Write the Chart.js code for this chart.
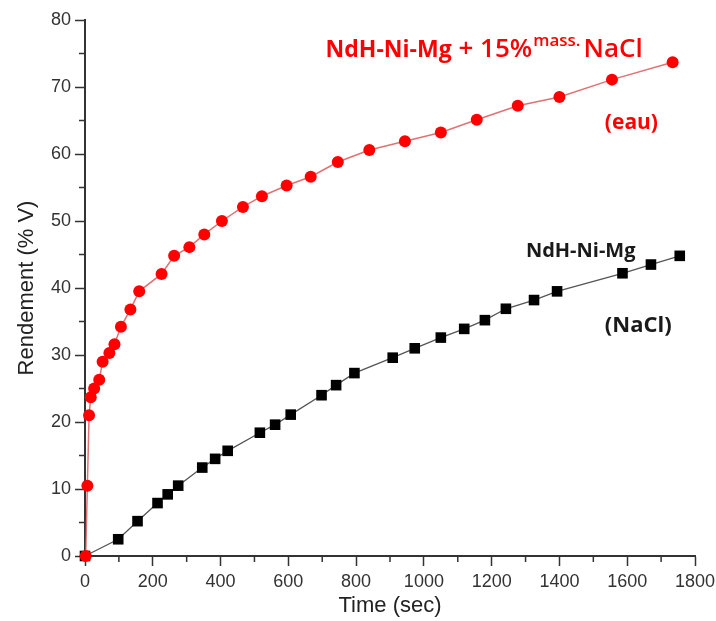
<!DOCTYPE html>
<html>
<head>
<meta charset="utf-8">
<script src="https://cdn.jsdelivr.net/npm/chart.js@4.4.0/dist/chart.umd.min.js"></script>
<style>
  html, body { margin: 0; padding: 0; background: #fff; }
  #wrap { width: 716px; height: 621px; }
</style>
</head>
<body>
<div id="wrap"><canvas id="chartRendement"></canvas></div>
<script>
// eau (NdH-Ni-Mg + 15% mass. NaCl)
var redTime = [2, 7, 12, 17, 27, 42, 52, 72, 87, 106, 134, 160, 226, 263, 308, 352, 404, 466, 522, 595, 666, 746, 839, 944, 1050, 1156, 1277, 1400, 1555, 1734]
var redYield = [0, 10.5, 21, 23.7, 25.0, 26.3, 29.0, 30.3, 31.6, 34.2, 36.8, 39.5, 42.1, 44.8, 46.1, 48.0, 50.0, 52.1, 53.7, 55.3, 56.6, 58.8, 60.6, 61.9, 63.2, 65.1, 67.2, 68.5, 71.1, 73.7]

// NaCl (NdH-Ni-Mg)
var blackTime = [0, 98, 155, 214, 244, 275, 346, 384, 421, 516, 561, 607, 698, 741, 795, 908, 973, 1050, 1119, 1180, 1242, 1325, 1393, 1586, 1670, 1755]
var blackYield = [0, 2.5, 5.2, 7.9, 9.2, 10.5, 13.2, 14.5, 15.7, 18.4, 19.6, 21.1, 24.0, 25.5, 27.3, 29.6, 31.0, 32.6, 33.9, 35.2, 36.9, 38.2, 39.5, 42.2, 43.5, 44.8]

var xTicks = [0, 200, 400, 600, 800, 1000, 1200, 1400, 1600, 1800]
var yTicks = [0, 10, 20, 30, 40, 50, 60, 70, 80]

function points(xs, ys) {
  return xs.map(function (x, i) { return { x: x, y: ys[i] } })
}

// short minor ticks between the labelled ones
var minorTicks = {
  id: 'minorTicks',
  afterDraw: function (chart) {
    var ctx = chart.ctx
    var sx = chart.scales.x
    var sy = chart.scales.y
    var a = chart.chartArea
    ctx.save()
    ctx.strokeStyle = '#333'
    ctx.lineWidth = 1.5
    ctx.beginPath()
    for (var i = 0; i < xTicks.length - 1; i++) {
      var px = sx.getPixelForValue((xTicks[i] + xTicks[i + 1]) / 2)
      ctx.moveTo(px, a.bottom)
      ctx.lineTo(px, a.bottom + 6)
    }
    for (var j = 0; j < yTicks.length - 1; j++) {
      var py = sy.getPixelForValue((yTicks[j] + yTicks[j + 1]) / 2)
      ctx.moveTo(a.left, py)
      ctx.lineTo(a.left - 6, py)
    }
    ctx.stroke()
    ctx.restore()
  },
}

// text notes, placed in data units
var notes = {
  id: 'notes',
  afterDraw: function (chart) {
    var ctx = chart.ctx
    var sx = chart.scales.x
    var sy = chart.scales.y
    ctx.save()
    ctx.textBaseline = 'alphabetic'
    ctx.textAlign = 'left'

    // red title with superscript
    var x = sx.getPixelForValue(710)
    var y = sy.getPixelForValue(74.5)
    ctx.fillStyle = '#ff0000'
    var parts = [
      { t: 'NdH-Ni-Mg', f: 'bold 23px "Open Sans"', dy: 0, gap: 0 },
      { t: ' + 15%', f: '600 26px "Open Sans"', dy: 0, gap: 1 },
      { t: 'mass.', f: '600 17px "Open Sans"', dy: -11, gap: 3 },
      { t: 'NaCl', f: '600 26px "Open Sans"', dy: 0, gap: 0 },
    ]
    parts.forEach(function (p) {
      ctx.font = p.f
      ctx.fillText(p.t, x, y + p.dy)
      x += ctx.measureText(p.t).width + p.gap
    })

    ctx.font = 'bold 21px "Open Sans"'
    ctx.fillText('(eau)', sx.getPixelForValue(1534), sy.getPixelForValue(63.7))

    ctx.fillStyle = '#1a1a1a'
    ctx.font = 'bold 20px "Open Sans"'
    ctx.fillText('NdH-Ni-Mg', sx.getPixelForValue(1301), sy.getPixelForValue(44.6))
    ctx.font = 'bold 22px "Open Sans"'
    ctx.fillText('(NaCl)', sx.getPixelForValue(1534), sy.getPixelForValue(33.4))
    ctx.restore()
  },
}

var ctx = document.getElementById('chartRendement').getContext('2d')

var chart = new Chart(ctx, {
  type: 'line',
  data: {
    datasets: [
      {
        label: 'eau',
        data: points(redTime, redYield),
        borderColor: 'rgba(215, 90, 90, 0.85)',
        borderWidth: 1.5,
        backgroundColor: '#ff0000',
        pointBackgroundColor: '#ff0000',
        pointBorderColor: '#ff0000',
        pointRadius: 6,
        pointBorderWidth: 0,
        pointStyle: 'circle',
        tension: 0,
        clip: false,
      },
      {
        label: 'NaCl',
        data: points(blackTime, blackYield),
        borderColor: '#555',
        borderWidth: 1.3,
        backgroundColor: '#000',
        pointBackgroundColor: '#000',
        pointBorderColor: '#000',
        pointRadius: 7.5,
        pointBorderWidth: 0,
        pointStyle: 'rect',
        tension: 0,
        clip: false,
      },
    ],
  },
  options: {
    responsive: true,
    maintainAspectRatio: false,
    animation: false,
    layout: { padding: { top: 20, right: 21, left: 0, bottom: 0 } },
    plugins: {
      legend: { display: false },
      tooltip: { enabled: false },
    },
    scales: {
      x: {
        type: 'linear',
        min: 0,
        max: 1800,
        afterFit: function (s) {
          s.height = 65
          s.paddingRight = 0
          s.paddingLeft = 0
        },
        afterBuildTicks: function (s) {
          s.ticks = xTicks.map(function (v) { return { value: v } })
        },
        ticks: {
          color: '#333',
          font: { family: 'Liberation Sans', size: 18 },
          padding: 5,
          maxRotation: 0,
          autoSkip: false,
          callback: function (v) { return String(v) },
        },
        grid: { drawOnChartArea: false, tickLength: 10, color: '#333', tickWidth: 1.5 },
        border: { color: '#333', width: 2 },
        title: {
          display: true,
          text: 'Time (sec)',
          color: '#222',
          font: { family: 'Liberation Sans', size: 22 },
          padding: { top: 0, bottom: 2 },
        },
      },
      y: {
        min: 0,
        max: 80,
        afterFit: function (s) { s.width = 85 },
        afterBuildTicks: function (s) {
          s.ticks = yTicks.map(function (v) { return { value: v } })
        },
        ticks: {
          color: '#333',
          font: { family: 'Liberation Sans', size: 18 },
          padding: 4,
          autoSkip: false,
          callback: function (v) { return String(v) },
        },
        grid: { drawOnChartArea: false, tickLength: 10, color: '#333', tickWidth: 1.5 },
        border: { color: '#333', width: 2 },
        title: {
          display: true,
          text: 'Rendement (% V)',
          color: '#222',
          font: { family: 'Liberation Sans', size: 22 },
          padding: { top: 14, bottom: 0 },
        },
      },
    },
  },
  plugins: [minorTicks, notes],
})
</script>
</body>
</html>
